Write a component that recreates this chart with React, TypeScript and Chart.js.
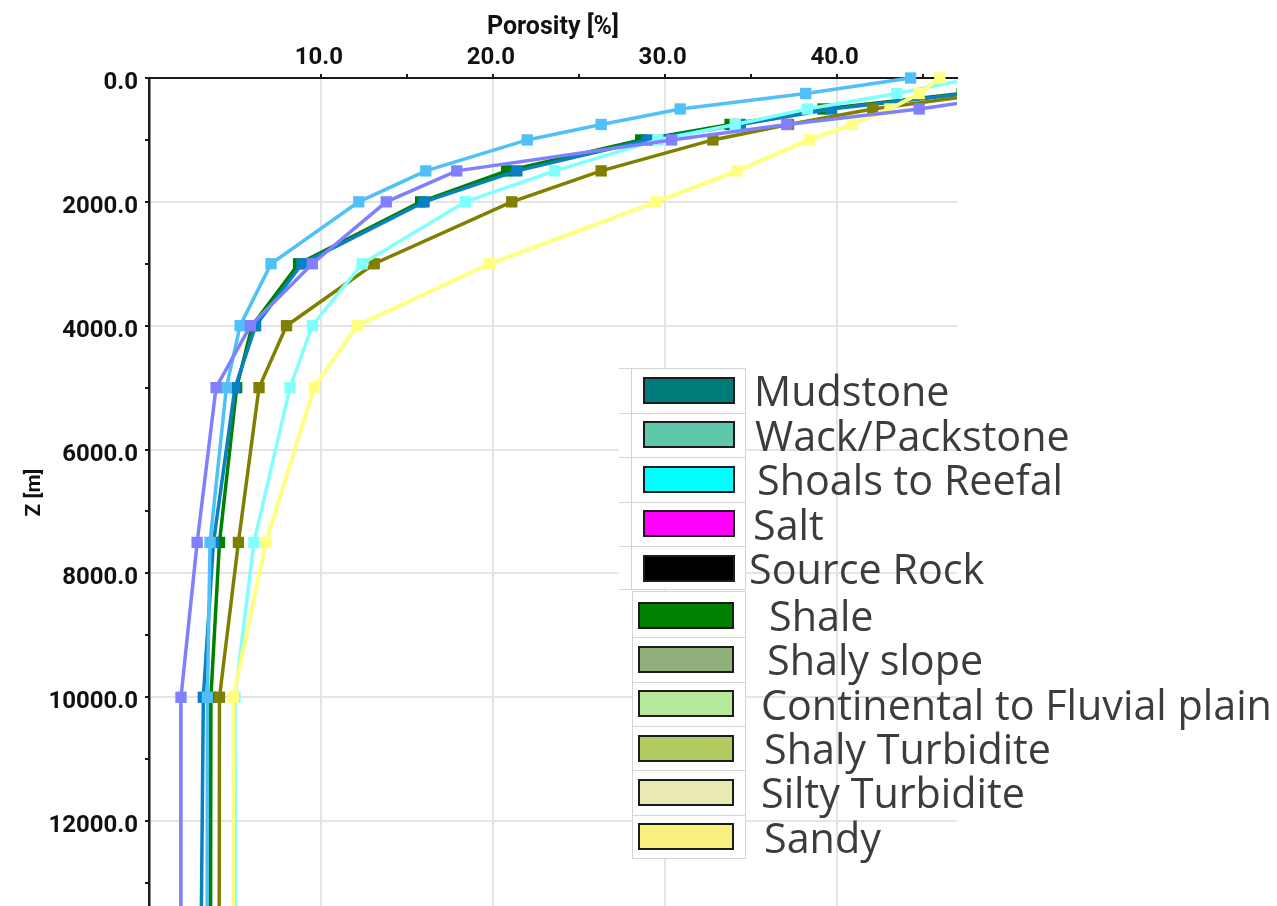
import React, { useEffect, useRef } from "react";
import { Chart, registerables } from "chart.js";

Chart.register(...registerables);

// Depth of each sample (m)
const depths = [0, 250, 500, 750, 1000, 1500, 2000, 3000, 4000, 5000, 7500, 10000, 20000];

// Porosity (%) per curve
const skyBlue = [44.3, 38.2, 30.9, 26.3, 22.0, 16.1, 12.2, 7.1, 5.3, 4.5, 3.55, 3.4, 3.35];
const purple = [58, 51, 44.8, 37.1, 30.4, 17.9, 13.8, 9.5, 5.9, 3.9, 2.8, 1.86, 1.85];
const steelBlue = [55, 47.7, 39.7, 34.4, 29.0, 21.4, 16.0, 8.9, 6.2, 5.0, 3.75, 3.16, 2.83];
const green = [54, 47.3, 39.2, 33.8, 28.6, 20.8, 15.8, 8.7, 6.0, 5.1, 4.1, 3.6, 3.55];
const cyan = [48, 43.5, 38.3, 34.1, 29.6, 23.6, 18.4, 12.4, 9.5, 8.2, 6.1, 5.0, 5.05];
const olive = [56, 48.9, 42.1, 37.2, 32.8, 26.3, 21.1, 13.1, 8.0, 6.4, 5.2, 4.1, 4.05];
const yellow = [46.0, 44.8, 43.1, 40.9, 38.4, 34.2, 29.5, 19.8, 12.1, 9.6, 6.8, 4.9, 4.9];

// Axis ticks
const xTicks = [10, 15, 20, 25, 30, 35, 40, 45];
const yTicks = [0, 1000, 2000, 3000, 4000, 5000, 6000, 7000, 8000, 9000, 10000, 11000, 12000, 13000];

// Legend (pasted lithology key)
const legendNames = [
  "Mudstone",
  "Wack/Packstone",
  "Shoals to Reefal",
  "Salt",
  "Source Rock",
  "Shale",
  "Shaly slope",
  "Continental to Fluvial plain",
  "Shaly Turbidite",
  "Silty Turbidite",
  "Sandy",
];
const legendColors = [
  "#007b7b",
  "#5ec8aa",
  "#00ffff",
  "#ff00ff",
  "#000000",
  "#008000",
  "#8fb07b",
  "#b6e899",
  "#b2cb60",
  "#e9eab2",
  "#f7f07f",
];

const FONT = "Roboto, 'DejaVu Sans', sans-serif";

function series(values: number[]) {
  return values.map((v, i) => ({ x: v, y: depths[i] }));
}

export default function App() {
  const canvasRef = useRef<HTMLCanvasElement | null>(null);

  useEffect(() => {
    if (!canvasRef.current) return;
    const mk = (label: string, values: number[], color: string, width = 3.5) => ({
      label,
      data: series(values),
      showLine: true,
      borderColor: color,
      backgroundColor: color,
      borderWidth: width,
      pointStyle: "rect" as const,
      pointRadius: 8,
      pointBorderWidth: 0,
      pointBackgroundColor: color,
      tension: 0,
      clip: { left: 6, top: 8, right: 0, bottom: 0 },
    });

    const chart = new Chart(canvasRef.current, {
      type: "scatter",
      data: {
        datasets: [
          mk("purple", purple, "#8080ff"),
          mk("skyBlue", skyBlue, "#50c0f8"),
          mk("yellow", yellow, "#ffff80", 4),
          mk("cyan", cyan, "#80ffff"),
          mk("olive", olive, "#808000"),
          mk("steelBlue", steelBlue, "#0a80c0"),
          mk("green", green, "#008000"),
        ],
      },
      options: {
        animation: false,
        responsive: false,
        maintainAspectRatio: false,
        layout: { padding: { left: 0, top: 0, right: 320, bottom: 0 } },
        plugins: { legend: { display: false }, tooltip: { enabled: false } },
        scales: {
          x: {
            type: "linear",
            position: "top",
            min: 0,
            max: 47,
            afterBuildTicks: (scale: any) => {
              scale.ticks = xTicks.map((v) => ({ value: v }));
            },
            afterFit: (scale: any) => {
              scale.height = 78;
              scale.paddingLeft = 0;
              scale.paddingRight = 0;
            },
            border: { display: true, color: "#1a1a1a", width: 2 },
            grid: {
              color: (ctx: any) =>
                ctx.tick && ctx.tick.value % 10 === 0 ? "#e4e4e4" : "rgba(0,0,0,0)",
              lineWidth: 2,
              tickColor: "#1a1a1a",
              tickLength: 4,
              tickWidth: 2,
            },
            ticks: {
              padding: 1.5,
              labelOffset: -2,
              color: "#111",
              maxRotation: 0,
              autoSkip: false,
              font: { family: FONT, size: 24, weight: "bold" },
              callback: (v: any) => (Number(v) % 10 === 0 ? Number(v).toFixed(1) : ""),
            },
            title: {
              display: true,
              text: "Porosity [%]",
              color: "#111",
              font: { family: FONT, size: 25, weight: "bold" },
              padding: { top: 13, bottom: 0 },
            },
          },
          y: {
            type: "linear",
            reverse: true,
            min: 0,
            max: 13387,
            afterBuildTicks: (scale: any) => {
              scale.ticks = yTicks.map((v) => ({ value: v }));
            },
            afterFit: (scale: any) => {
              scale.width = 149;
              scale.paddingTop = 0;
              scale.paddingBottom = 0;
            },
            border: { display: true, color: "#1a1a1a", width: 2.5 },
            grid: {
              color: (ctx: any) =>
                ctx.tick && ctx.tick.value % 2000 === 0 && ctx.tick.value > 0
                  ? "#e4e4e4"
                  : "rgba(0,0,0,0)",
              lineWidth: 2,
              tickColor: "#1a1a1a",
              tickLength: 4,
              tickWidth: 2,
            },
            ticks: {
              padding: 7,
              labelOffset: 5,
              color: "#111",
              autoSkip: false,
              font: { family: FONT, size: 24, weight: "bold" },
              callback: (v: any) => (Number(v) % 2000 === 0 ? Number(v).toFixed(1) : ""),
            },
            title: {
              display: true,
              text: "Z [m]",
              color: "#111",
              font: { family: FONT, size: 21, weight: "bold" },
              padding: { top: 22, bottom: 0 },
            },
          },
        },
      },
    } as any);
    return () => chart.destroy();
  }, []);

  const rowTop = (i: number) => (i < 5 ? 368 + i * 44.5 : 593 + (i - 5) * 44.3);
  const rowH = (i: number) => (i < 5 ? 44.5 : 44.3);
  const textLeft = [754, 755, 757, 753, 749, 769, 767, 761, 764, 761, 764];

  return (
    <div
      style={{
        position: "fixed",
        left: 0,
        top: 0,
        width: 1277,
        height: 906,
        overflow: "hidden",
        background: "#fff",
      }}
    >
      <canvas ref={canvasRef} width={1277} height={915} style={{ display: "block" }} />
      {/* legend key boxes */}
      <div
        style={{
          position: "absolute",
          left: 619,
          top: 368,
          width: 127,
          height: 222,
          background: "#fff",
          borderTop: "1px solid #d4d4d4",
          borderRight: "1px solid #d4d4d4",
          boxSizing: "border-box",
        }}
      />
      <div
        style={{
          position: "absolute",
          left: 632,
          top: 591,
          width: 114,
          height: 268,
          background: "#fff",
          border: "1px solid #d4d4d4",
          boxSizing: "border-box",
        }}
      />
      <div
        style={{
          position: "absolute",
          left: 631,
          top: 368,
          width: 1,
          height: 222,
          background: "#d4d4d4",
        }}
      />
      {legendNames.map((name, i) => (
        <React.Fragment key={name}>
          {i > 0 && i < 5 && (
            <div
              style={{
                position: "absolute",
                left: 619,
                top: rowTop(i),
                width: 127,
                height: 1,
                background: "#d4d4d4",
              }}
            />
          )}
          {i === 4 && (
            <div
              style={{
                position: "absolute",
                left: 619,
                top: 589,
                width: 127,
                height: 1,
                background: "#d4d4d4",
              }}
            />
          )}
          {i > 5 && (
            <div
              style={{
                position: "absolute",
                left: 632,
                top: rowTop(i),
                width: 114,
                height: 1,
                background: "#d4d4d4",
              }}
            />
          )}
          <div
            style={{
              position: "absolute",
              left: i < 5 ? 643 : 638,
              top: rowTop(i) + (rowH(i) - 27) / 2,
              width: i < 5 ? 92 : 96,
              height: 27,
              background: legendColors[i],
              border: "2px solid #1c1c1c",
              boxSizing: "border-box",
            }}
          />
          <div
            style={{
              position: "absolute",
              left: textLeft[i],
              top: rowTop(i),
              height: rowH(i),
              lineHeight: rowH(i) + "px",
              fontFamily: "'Open Sans', 'Noto Sans', sans-serif",
              fontSize: 41.3,
              color: "#3c3c3c",
              whiteSpace: "nowrap",
            }}
          >
            {name}
          </div>
        </React.Fragment>
      ))}
    </div>
  );
}
